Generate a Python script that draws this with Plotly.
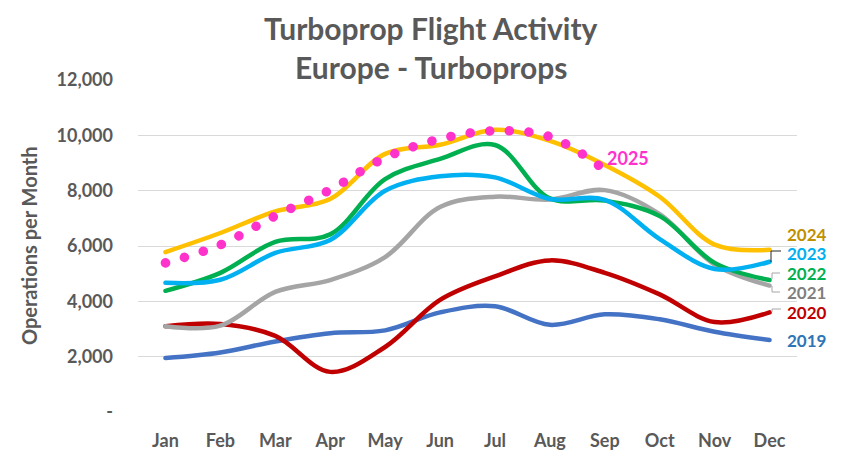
import plotly.graph_objects as go

months = ["Jan", "Feb", "Mar", "Apr", "May", "Jun", "Jul", "Aug", "Sep", "Oct", "Nov", "Dec"]

ops_2019 = [1950, 2150, 2550, 2850, 2950, 3600, 3820, 3150, 3530, 3350, 2900, 2600]
ops_2020 = [3100, 3180, 2750, 1450, 2350, 4050, 4900, 5480, 5030, 4250, 3250, 3600]
ops_2021 = [3100, 3120, 4340, 4770, 5600, 7410, 7780, 7680, 8020, 7150, 5330, 4570]
ops_2022 = [4380, 5030, 6150, 6420, 8420, 9150, 9650, 7720, 7640, 7080, 5390, 4770]
ops_2023 = [4670, 4780, 5750, 6220, 8000, 8520, 8480, 7700, 7670, 6250, 5170, 5430]
ops_2024 = [5780, 6470, 7250, 7700, 9330, 9660, 10200, 9800, 8930, 7780, 6050, 5860]
ops_2025 = [5390, 6040, 7090, 8030, 9190, 9870, 10160, 9950, 8750]

y_ticks = [0, 2000, 4000, 6000, 8000, 10000, 12000]
y_tick_text = ["-", "2,000", "4,000", "6,000", "8,000", "10,000", "12,000"]

FONT = "Lato"
TEXT_GRAY = "#595959"

series = [
    ("2019", ops_2019, "#4472C4", "#2E75B6", 340),
    ("2020", ops_2020, "#C00000", "#C00000", 312),
    ("2021", ops_2021, "#A5A5A5", "#7F7F7F", 292.5),
    ("2022", ops_2022, "#00B050", "#00B050", 273),
    ("2023", ops_2023, "#00B0F0", "#00B0F0", 253.5),
    ("2024", ops_2024, "#FFC000", "#BF9000", 234),
]

# plot area in pixels (used to place labels and small leader lines)
L, R, T, B = 138, 797, 80, 412
W, H = R - L, B - T


def px(x):
    return (x - L) / W


def py(y):
    return (B - y) / H


fig = go.Figure()
annotations = []

for name, vals, color, label_color, label_y in series:
    fig.add_trace(go.Scatter(
        x=list(range(len(vals))), y=vals, mode="lines", name=name,
        line=dict(color=color, width=4.5, shape="spline", smoothing=1.0),
        hoverinfo="skip",
    ))
    annotations.append(dict(
        text=f"<b>{name}</b>", xref="paper", yref="paper",
        x=px(785), y=py(label_y), xanchor="left", yanchor="middle",
        showarrow=False, font=dict(family=FONT, size=17, color=label_color),
    ))

fig.add_trace(go.Scatter(
    x=list(range(len(ops_2025))), y=ops_2025, mode="lines", name="2025",
    line=dict(color="#FF33CC", width=9.5, shape="spline", smoothing=1.0,
              dash="0.1px,19.5px"),
    hoverinfo="skip",
))
annotations.append(dict(
    text="<b>2025</b>", xref="paper", yref="paper",
    x=px(605), y=py(158), xanchor="left", yanchor="middle",
    showarrow=False, font=dict(family=FONT, size=18, color="#FF33CC"),
))

# title (two lines) and axis title
annotations.append(dict(
    text="<b>Turboprop Flight Activity</b>", xref="paper", yref="paper",
    x=px(431), y=py(28), xanchor="center", yanchor="middle", showarrow=False,
    font=dict(family=FONT, size=30, color=TEXT_GRAY),
))
annotations.append(dict(
    text="<b>Europe - Turboprops</b>", xref="paper", yref="paper",
    x=px(431), y=py(67), xanchor="center", yanchor="middle", showarrow=False,
    font=dict(family=FONT, size=30, color=TEXT_GRAY),
))
annotations.append(dict(
    text="<b>Operations per Month</b>", xref="paper", yref="paper",
    x=px(29), y=py(246), xanchor="center", yanchor="middle", showarrow=False,
    textangle=-90, font=dict(family=FONT, size=20, color=TEXT_GRAY),
))

shapes = [
    # white band behind the title, breaking the top gridline
    dict(type="rect", xref="paper", yref="paper", x0=px(237), x1=px(625),
         y0=py(84), y1=py(76), fillcolor="white", line=dict(width=0), layer="above"),
    # leader lines for the end labels
    dict(type="path", xref="paper", yref="paper",
         path=f"M {px(771)},{py(262)} L {px(771)},{py(251)} L {px(781)},{py(251)}",
         line=dict(color="#262626", width=1)),
    dict(type="path", xref="paper", yref="paper",
         path=f"M {px(780)},{py(273)} L {px(772)},{py(273)} L {px(772)},{py(279)}",
         line=dict(color="#A6A6A6", width=1)),
    dict(type="path", xref="paper", yref="paper",
         path=f"M {px(772)},{py(286)} L {px(772)},{py(292)} L {px(780)},{py(292)}",
         line=dict(color="#A6A6A6", width=1)),
    dict(type="path", xref="paper", yref="paper",
         path=f"M {px(772)},{py(312)} L {px(772)},{py(309)} L {px(781)},{py(309)}",
         line=dict(color="#A6A6A6", width=1)),
]

fig.update_layout(
    width=845, height=455,
    margin=dict(l=L, r=845 - R, t=T, b=455 - B),
    paper_bgcolor="white", plot_bgcolor="white",
    showlegend=False,
    annotations=annotations,
    shapes=shapes,
    xaxis=dict(
        range=[-0.5, 11.5], tickvals=list(range(12)), ticktext=months,
        showgrid=False, zeroline=False, showline=False, ticks="",
        automargin=False, ticklabelstandoff=16,
        tickfont=dict(family=FONT, size=18, color=TEXT_GRAY, weight="bold"),
    ),
    yaxis=dict(
        range=[0, 12000], tickvals=y_ticks, ticktext=y_tick_text,
        showgrid=True, gridcolor="#D9D9D9", gridwidth=1.3,
        zeroline=False, showline=False, ticks="",
        automargin=False, ticklabelstandoff=24,
        tickfont=dict(family=FONT, size=18, color=TEXT_GRAY, weight="bold"),
    ),
)

# rounded caps give the 2025 series its round-dot look
post = """
var gd = document.getElementById('{plot_id}');
function roundCaps() {
  gd.querySelectorAll('.scatterlayer path.js-line').forEach(function (p) {
    p.style.strokeLinecap = 'round';
    p.style.strokeLinejoin = 'round';
  });
}
roundCaps();
gd.on('plotly_afterplot', roundCaps);
"""

fig.write_html("out.html", post_script=post)
